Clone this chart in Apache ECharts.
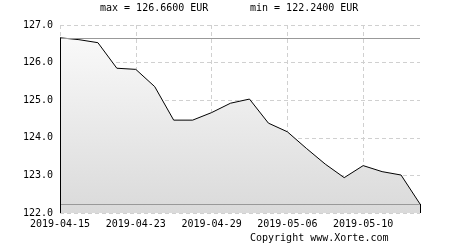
<!DOCTYPE html>
<html lang="en">
<head>
    <meta charset="UTF-8">
    <title>Kurs</title>
    <script src="https://cdn.jsdelivr.net/npm/echarts@6/dist/echarts.min.js"></script>
</head>
<style>
    *{
        margin: 0;
        padding: 0;
    }
    html , body{
        width: 450px;
        height: 250px;
        background: #fff;
    }
    .container{
        width: 450px;
        height: 250px;
    }
</style>
<body>
<div class="container"></div>
<script>
    // handelstage
    let dates = ['2019-04-15', '2019-04-16', '2019-04-17', '2019-04-18', '2019-04-23',
        '2019-04-24', '2019-04-25', '2019-04-26', '2019-04-29', '2019-04-30',
        '2019-05-02', '2019-05-03', '2019-05-06', '2019-05-07', '2019-05-08',
        '2019-05-09', '2019-05-10', '2019-05-13', '2019-05-14', '2019-05-15'];
    let prices = [126.66, 126.61, 126.53, 125.85, 125.82,
        125.36, 124.47, 124.47, 124.67, 124.92,
        125.03, 124.39, 124.16, 123.72, 123.30,
        122.94, 123.26, 123.10, 123.01, 122.24];
    let maxPrice = 126.66;
    let minPrice = 122.24;
    let yTicks = [122, 123, 124, 125, 126, 127];

    let font = '"DejaVu Sans Mono", monospace';
    let last = dates.length - 1;

    let container = document.querySelector('.container');
    let mycharts = echarts.init(container);

    let options = {
        animation: false,
        backgroundColor: '#fff',
        grid: {
            left: 60,
            right: 30,
            top: 25,
            bottom: 37
        },
        graphic: [
            {type: 'text', left: 100, top: 3,
                style: {text: 'max = ' + maxPrice.toFixed(4) + ' EUR', font: '10px ' + font, fill: '#000'}},
            {type: 'text', left: 250, top: 3,
                style: {text: 'min = ' + minPrice.toFixed(4) + ' EUR', font: '10px ' + font, fill: '#000'}},
            {type: 'text', left: 250, top: 233,
                style: {text: 'Copyright www.Xorte.com', font: '10px ' + font, fill: '#000'}}
        ],
        xAxis: {
            type: 'category',
            data: dates,
            boundaryGap: false,
            axisLine: {show: false},
            axisTick: {
                show: true,
                inside: true,
                length: 6,
                interval: 3,
                lineStyle: {color: '#000'}
            },
            axisLabel: {
                interval: 3,
                color: '#000',
                fontFamily: font,
                fontSize: 10,
                margin: 6
            },
            splitLine: {
                show: true,
                interval: 3,
                lineStyle: {color: '#d0d0d0', type: [4, 3]}
            }
        },
        yAxis: {
            type: 'value',
            min: yTicks[0],
            max: yTicks[yTicks.length - 1],
            interval: 1,
            axisLine: {show: false},
            axisTick: {show: false},
            axisLabel: {
                color: '#000',
                fontFamily: font,
                fontSize: 10,
                margin: 7,
                formatter: v => v.toFixed(1)
            },
            splitLine: {
                lineStyle: {color: '#d0d0d0', type: [4, 3]}
            }
        },
        series: [{
            type: 'line',
            data: prices,
            symbol: 'none',
            lineStyle: {color: '#000', width: 1},
            areaStyle: {
                origin: 'start',
                color: new echarts.graphic.LinearGradient(0, 0, 0, 1, [
                    {offset: 0, color: '#f9f9f9'},
                    {offset: 1, color: '#dadada'}
                ]),
                opacity: 1
            },
            markLine: {
                silent: true,
                symbol: 'none',
                label: {show: false},
                emphasis: {disabled: true},
                data: [
                    {yAxis: maxPrice, lineStyle: {color: '#999', width: 1, type: 'solid'}},
                    {yAxis: minPrice, lineStyle: {color: '#999', width: 1, type: 'solid'}},
                    [{coord: [dates[0], yTicks[0]], lineStyle: {color: '#000', width: 1, type: 'solid'}},
                        {coord: [dates[0], prices[0]]}],
                    [{coord: [dates[last], yTicks[0]], lineStyle: {color: '#000', width: 1, type: 'solid'}},
                        {coord: [dates[last], prices[last]]}]
                ]
            }
        }]
    };

    mycharts.setOption(options);
</script>
</body>
</html>
